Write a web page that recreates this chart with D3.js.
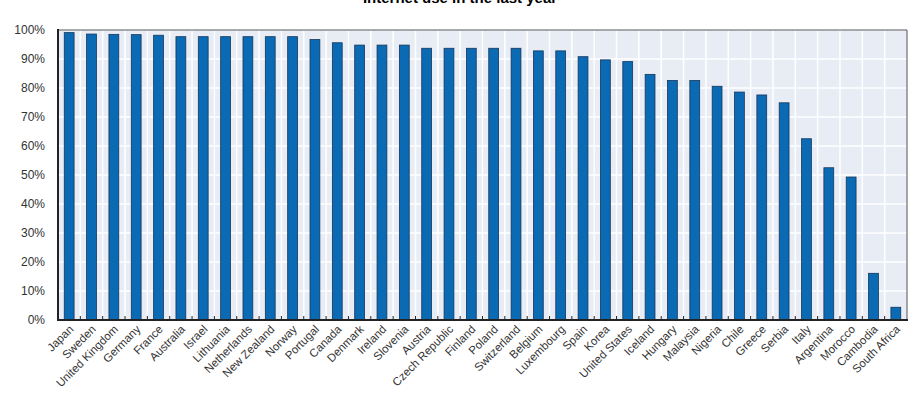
<!DOCTYPE html>
<html>
<head>
<meta charset="utf-8">
<script src="https://cdn.jsdelivr.net/npm/d3@7"></script>
<style>
  html, body { margin: 0; padding: 0; background: #fff; }
  svg { display: block; font-family: "Liberation Sans", Arial, sans-serif; }
</style>
</head>
<body>
<svg id="chart" width="920" height="405"></svg>
<script>
const titleText = "Internet use in the last year";
const countries = ["Japan","Sweden","United Kingdom","Germany","France","Australia","Israel","Lithuania","Netherlands","New Zealand","Norway","Portugal","Canada","Denmark","Ireland","Slovenia","Austria","Czech Republic","Finland","Poland","Switzerland","Belgium","Luxembourg","Spain","Korea","United States","Iceland","Hungary","Malaysia","Nigeria","Chile","Greece","Serbia","Italy","Argentina","Morocco","Cambodia","South Africa"];
const values = [99.1,98.6,98.5,98.4,98.2,97.7,97.7,97.7,97.7,97.7,97.7,96.7,95.6,94.8,94.8,94.8,93.7,93.7,93.7,93.7,93.7,92.8,92.8,90.8,89.7,89.1,84.7,82.6,82.6,80.6,78.6,77.6,74.9,62.5,52.5,49.3,16.1,4.4];
const yTicks = [0,10,20,30,40,50,60,70,80,90,100];

(function () {
const svg = d3.select("#chart");
const pL = 58, pR = 907, pT = 30, pB = 320;

const x = d3.scaleBand().domain(countries).range([pL, pR]).paddingInner(0.56).paddingOuter(0.28);
const xb = d3.scaleBand().domain(countries).range([pL, pR]).padding(0);
const y = d3.scaleLinear().domain([0, 100]).range([pB, pT]);

// title (cut off at top in reference)
svg.append("text").attr("x", 460).attr("y", 3).attr("text-anchor", "middle")
  .attr("font-size", 15).attr("font-weight", "bold").attr("fill", "#000").text(titleText);

// plot background
svg.append("rect").attr("x", pL).attr("y", pT).attr("width", pR - pL).attr("height", pB - pT)
  .attr("fill", "#e7ecf5");

// horizontal grid
svg.append("g").selectAll("line").data(yTicks.slice(1)).join("line")
  .attr("x1", pL).attr("x2", pR).attr("y1", d => y(d)).attr("y2", d => y(d))
  .attr("stroke", "#fff").attr("stroke-width", 1.5);

// vertical grid at band boundaries
svg.append("g").selectAll("line").data(countries.slice(1)).join("line")
  .attr("x1", d => xb(d)).attr("x2", d => xb(d)).attr("y1", pT).attr("y2", pB)
  .attr("stroke", "#fff").attr("stroke-width", 1.5);

// bars
svg.append("g").selectAll("rect").data(countries).join("rect")
  .attr("x", d => x(d)).attr("width", x.bandwidth())
  .attr("y", (d, i) => y(values[i])).attr("height", (d, i) => y(0) - y(values[i]))
  .attr("fill", "#0b6ab4").attr("stroke", "#14365a").attr("stroke-width", 0.8);

// frame top/right
svg.append("line").attr("x1", pL).attr("x2", pR).attr("y1", pT).attr("y2", pT)
  .attr("stroke", "#555").attr("stroke-width", 1);
svg.append("line").attr("x1", pR).attr("x2", pR).attr("y1", pT).attr("y2", pB)
  .attr("stroke", "#555").attr("stroke-width", 1);

// x ticks (small, inside, at band boundaries)
svg.append("g").selectAll("line").data(countries.slice(1)).join("line")
  .attr("x1", d => xb(d)).attr("x2", d => xb(d)).attr("y1", pB).attr("y2", pB - 4)
  .attr("stroke", "#222").attr("stroke-width", 1);

// axes lines
svg.append("line").attr("x1", pL).attr("x2", pR + 1).attr("y1", pB).attr("y2", pB)
  .attr("stroke", "#222").attr("stroke-width", 2);
svg.append("line").attr("x1", pL).attr("x2", pL).attr("y1", pT - 1).attr("y2", pB + 1)
  .attr("stroke", "#222").attr("stroke-width", 2);

// y labels
const yAxis = d3.axisLeft(y).tickValues(yTicks).tickFormat(d => d + "%").tickSize(0).tickPadding(0);
const ya = svg.append("g").attr("transform", `translate(${pL - 13},0)`).call(yAxis);
ya.select(".domain").remove();
ya.selectAll("text").attr("font-size", 12).attr("fill", "#333").attr("font-family", "Liberation Sans, Arial, sans-serif");

// x labels rotated
const xAxis = d3.axisBottom(xb).tickSize(0).tickPadding(0);
const xa = svg.append("g").attr("transform", `translate(0,${pB})`).call(xAxis);
xa.select(".domain").remove();
xa.selectAll("text")
  .attr("font-size", 11.5).attr("fill", "#333").attr("font-family", "Liberation Sans, Arial, sans-serif")
  .attr("text-anchor", "end").attr("dy", 0).attr("y", 0)
  .attr("transform", "translate(5,10) rotate(-45)");
})();
</script>
</body>
</html>
